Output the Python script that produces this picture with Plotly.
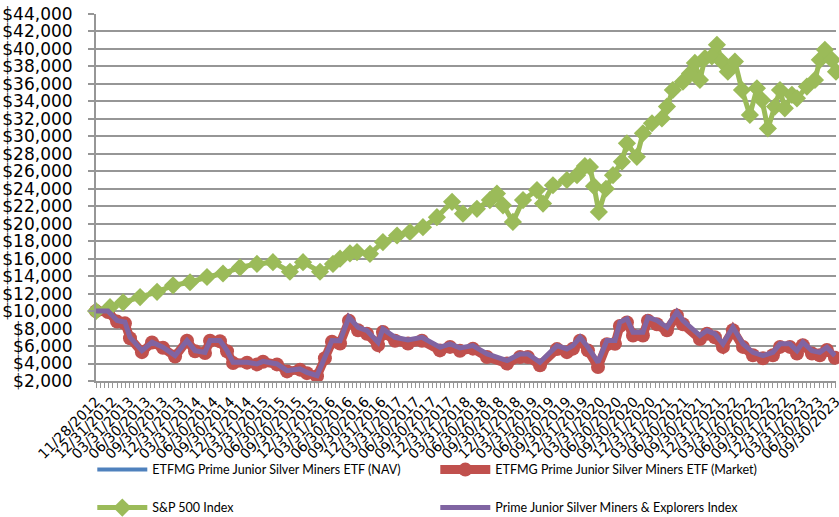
import plotly.graph_objects as go

# x positions are measured in "quarter-label" units along the category axis
tick_labels = [
    "11/28/2012", "12/31/2012",
    "03/31/2013", "06/30/2013", "09/30/2013", "12/31/2013",
    "03/31/2014", "06/30/2014", "09/30/2014", "12/31/2014",
    "03/31/2015", "06/30/2015", "09/30/2015", "12/31/2015",
    "03/31/2016", "06/30/2016", "09/30/2016", "12/31/2016",
    "03/31/2017", "06/30/2017", "09/30/2017", "12/31/2017",
    "03/31/2018", "06/30/2018", "09/30/2018", "12/31/2018",
    "03/31/2019", "06/30/2019", "09/30/2019", "12/31/2019",
    "03/31/2020", "06/30/2020", "09/30/2020", "12/31/2020",
    "03/31/2021", "06/30/2021", "09/30/2021", "12/31/2021",
    "03/31/2022", "06/30/2022", "09/30/2022", "12/31/2022",
    "03/31/2023", "06/30/2023", "09/30/2023",
]

sp_x = [0, 0.83, 1.61, 2.62, 3.63, 4.58, 5.59, 6.60, 7.55, 8.56, 9.57, 10.52, 11.53,
        12.31, 13.32, 14.09, 14.51, 15.10, 15.52, 16.29, 17.06, 17.90, 18.67, 19.44,
        20.27, 21.17, 21.82, 22.65, 23.42, 23.84, 24.20, 24.79, 25.39, 26.22, 26.58,
        27.17, 28.00, 28.60, 29.07, 29.37, 29.61, 29.90, 30.32, 30.74, 31.27, 31.57,
        32.16, 32.52, 33.06, 33.65, 33.95, 34.30, 34.90, 35.32, 35.61, 35.91, 36.21,
        36.62, 36.92, 37.22, 37.57, 37.99, 38.41, 38.88, 39.30, 39.60, 39.95, 40.37,
        40.67, 40.96, 41.38, 41.68, 42.27, 42.75, 43.04, 43.34, 43.76, 44.00]
sp_values = [10000, 10450, 11000, 11600, 12200, 12950, 13300, 13900, 14300, 15000, 15400,
             15600, 14500, 15600, 14500, 15400, 16000, 16600, 16750, 16550, 17900, 18650,
             19050, 19600, 20750, 22500, 21150, 21700, 22700, 23450, 22100, 20200, 22700,
             23850, 22300, 24400, 25000, 25560, 26600, 26500, 24300, 21350, 24000, 25560,
             27100, 29200, 27650, 30350, 31500, 32050, 33400, 35300, 36250, 37200, 38400,
             36450, 38950, 39150, 40480, 38550, 37400, 38550, 35300, 32450, 35500, 34150,
             30900, 33400, 35300, 33200, 34750, 34350, 35700, 36450, 38750, 39900, 38750,
             37400]

fund_x = [0, 0.71, 1.25, 1.72, 2.02, 2.73, 3.33, 3.98, 4.70, 5.41, 5.89, 6.48, 6.78,
          7.37, 7.79, 8.15, 8.98, 9.57, 9.93, 10.76, 11.36, 12.13, 12.54, 13.14, 13.61,
          14.03, 14.51, 15.04, 15.58, 16.11, 16.77, 17.06, 17.78, 18.55, 19.38, 20.45,
          21.05, 21.64, 22.41, 23.25, 24.44, 25.21, 25.68, 26.40, 27.41, 28.00, 28.36,
          28.78, 29.25, 29.85, 30.38, 30.86, 31.15, 31.57, 31.93, 32.52, 32.82, 33.35,
          33.95, 34.54, 34.90, 35.91, 36.33, 36.80, 37.28, 37.87, 38.47, 39.06, 39.66,
          40.25, 40.67, 41.26, 41.68, 42.03, 42.57, 43.04, 43.46, 43.94]
index_values = [10000, 10000, 8920, 8730, 7000, 5480, 6430, 5860, 4900, 6625, 5480, 5280,
                6625, 6625, 5480, 4140, 4140, 3950, 4250, 3950, 3180, 3380, 2990, 2610,
                4710, 6625, 6600, 9300, 8150, 7770, 6430, 7970, 7000, 6700, 7000, 5860,
                6250, 5790, 6050, 5100, 4330, 5100, 5100, 4140, 6050, 5670, 6050, 7000,
                5860, 4140, 6630, 6630, 8730, 9120, 7580, 7580, 9300, 8920, 8150, 9900,
                8920, 7200, 7770, 7390, 6250, 8150, 6250, 5280, 4900, 5280, 6250, 6250,
                5480, 6430, 5480, 5280, 5860, 4900]
market_values = [10000, 9900, 8800, 8600, 6900, 5300, 6400, 5800, 4800, 6600, 5400, 5200,
                 6600, 6550, 5400, 4050, 4100, 3900, 4200, 3900, 3100, 3300, 2900, 2550,
                 4600, 6500, 6300, 8900, 7800, 7400, 6100, 7600, 6600, 6300, 6600, 5500,
                 5900, 5450, 5700, 4750, 4000, 4750, 4750, 3800, 5650, 5300, 5700, 6600,
                 5500, 3600, 6200, 6250, 8300, 8700, 7200, 7200, 8900, 8500, 7800, 9500,
                 8500, 6800, 7400, 7000, 5900, 7800, 5900, 4950, 4600, 4950, 5900, 5900,
                 5150, 6100, 5150, 4950, 5550, 4650]
nav_values = [10000, 9900, 8800, 8600, 6900, 5300, 6400, 5800, 4800, 6600, 5400, 5200,
              6600, 6550, 5400, 4050, 4100, 3900, 4200, 3900, 3100, 3300, 2900, 2550,
              4600, 6500, 6300, 8900, 7800, 7400, 6100, 7600, 6600, 6300, 6600, 5500,
              5900, 5450, 5700, 4750, 4000, 4750, 4750, 3800, 5650, 5300, 5700, 6600,
              5500, 3600, 6200, 6250, 8300, 8700, 7200, 7200, 8900, 8500, 7800, 9500,
              8500, 6800, 7400, 7000, 5900, 7800, 5900, 4950, 4600, 4950, 5900, 5900,
              5150, 6100, 5150, 4950, 5550, 4650]

AXFONT = "DejaVu Sans"
LEGFONT = "Lato"
fig = go.Figure()
fig.add_trace(go.Scatter(x=fund_x, y=nav_values, mode="lines",
                         name="ETFMG Prime Junior Silver Miners ETF (NAV)",
                         line=dict(color="#4f81bd", width=4), cliponaxis=False,
                         legend="legend"))
fig.add_trace(go.Scatter(x=fund_x, y=market_values, mode="lines+markers",
                         name="ETFMG Prime Junior Silver Miners ETF (Market)",
                         line=dict(color="#c0504d", width=9),
                         marker=dict(symbol="circle", size=14, color="#c0504d"),
                         cliponaxis=False, legend="legend"))
fig.add_trace(go.Scatter(x=sp_x, y=sp_values, mode="lines+markers",
                         name="S&P 500 Index",
                         line=dict(color="#9bbb59", width=5),
                         marker=dict(symbol="diamond", size=14, color="#9bbb59"),
                         cliponaxis=False, legend="legend2"))
fig.add_trace(go.Scatter(x=fund_x, y=index_values, mode="lines",
                         name="Prime Junior Silver Miners & Explorers Index",
                         line=dict(color="#8064a2", width=5), cliponaxis=False,
                         legend="legend2"))

grid = "#969696"
leg_common = dict(orientation="h", x=-0.005, xanchor="left", yanchor="middle",
                  entrywidth=278, entrywidthmode="pixels", itemwidth=50,
                  font=dict(family=LEGFONT, size=12.5, color="black"),
                  bgcolor="rgba(0,0,0,0)")
fig.update_layout(
    width=839, height=517,
    margin=dict(l=96, r=3, t=14, b=136, autoexpand=False),
    paper_bgcolor="white", plot_bgcolor="white",
    font=dict(family=AXFONT, color="black"),
    showlegend=True,
    legend=dict(y=-0.2425, **leg_common),
    legend2=dict(y=-0.346, **leg_common),
    xaxis=dict(range=[-0.001, 44.001], tickmode="array",
               tickvals=list(range(len(tick_labels))), ticktext=tick_labels,
               tickangle=-45, tickfont=dict(family=AXFONT, size=14, color="black"),
               ticklabeloverflow="allow",
               showgrid=False, zeroline=False, showline=True,
               linecolor=grid, linewidth=2, ticks="outside", ticklen=5,
               tickcolor=grid, tickwidth=1,
               minor=dict(dtick=0.25, tick0=0, ticks="outside", ticklen=5,
                          tickcolor=grid, tickwidth=1, showgrid=False)),
    yaxis=dict(range=[2000, 44000], dtick=2000, tick0=2000,
               tickprefix="$", tickformat=",d",
               tickfont=dict(family=AXFONT, size=17, color="black"),
               ticklabeloverflow="allow",
               showgrid=True, gridcolor=grid, gridwidth=1.5,
               zeroline=False, showline=True, linecolor=grid, linewidth=2,
               ticks="outside", ticklen=6, tickcolor=grid, tickwidth=1.5,
               ticklabelstandoff=12),
)

fig.write_html("out.html",
               config={"displayModeBar": False},
               post_script="document.body.style.margin='0';document.body.style.overflow='hidden';")
